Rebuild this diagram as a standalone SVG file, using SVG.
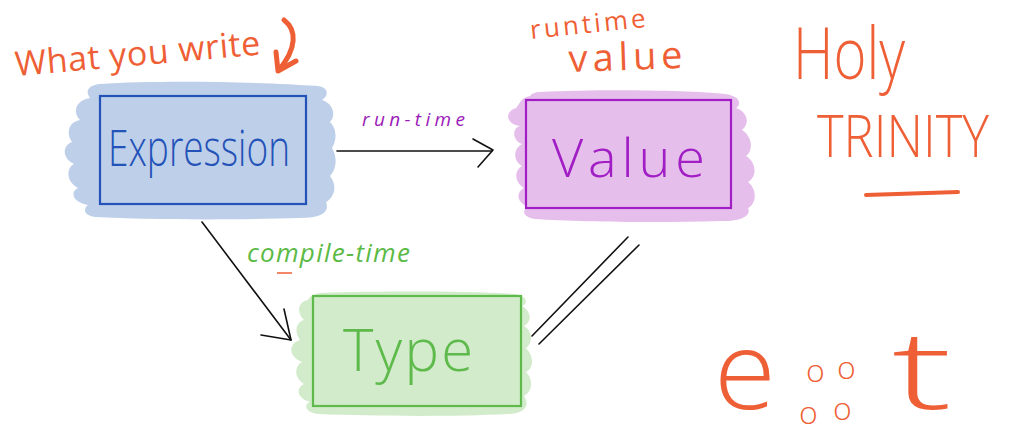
<svg xmlns="http://www.w3.org/2000/svg" width="1031" height="441" viewBox="0 0 1031 441">
  <style>
    .box { fill: none; stroke-width: 2.2; }
    .boxlabel { font-family: "Open Sans", "Liberation Sans", sans-serif; font-weight: 300; }
    .edge { stroke: #111; stroke-width: 1.6; fill: none; stroke-linecap: round; stroke-linejoin: round; }
    .note { font-family: "Open Sans", "Liberation Sans", sans-serif; fill: #EF5F36; }
    .ink { stroke: #EF5F36; fill: none; stroke-linecap: round; stroke-linejoin: round; }
    .edgelabel { font-family: "Open Sans", "Liberation Sans", sans-serif; font-style: italic; }
  </style>

  <rect width="1031" height="441" fill="#ffffff"/>

  <!-- Expression node -->
  <g id="node-expression">
    <path fill="#BECFE9" d="M100,84 C160,80 260,82 318,86 C330,88 328,96 322,100 C334,104 336,116 330,122 C338,130 336,142 332,148 C338,158 336,170 330,176 C338,186 334,198 326,202 C330,212 322,218 300,218 C240,220 150,220 95,217 C82,215 84,208 88,205 C72,202 70,192 78,188 C66,182 66,168 74,164 C62,158 62,146 72,142 C66,134 68,122 80,120 C72,112 76,100 90,98 C84,90 90,85 100,84 Z"/>
    <rect class="box" x="100" y="96" width="206" height="108" stroke="#2352B8"/>
    <text class="boxlabel" x="108" y="166" font-size="50" textLength="182" lengthAdjust="spacingAndGlyphs" fill="#2352B8">Expression</text>
  </g>

  <!-- Value node -->
  <g id="node-value">
    <path fill="#E6BEEB" d="M540,92 C600,89 690,90 725,94 C740,96 742,104 736,108 C748,112 750,124 742,130 C752,136 754,150 746,156 C756,162 758,176 748,182 C758,190 756,204 748,208 C752,216 740,222 720,221 C660,223 580,222 535,219 C522,217 522,210 528,207 C516,202 516,192 524,188 C514,182 514,170 522,166 C512,160 514,148 522,144 C512,140 512,128 520,126 C506,124 504,112 516,108 C520,104 520,98 530,96 C532,93 536,92 540,92 Z"/>
    <rect class="box" x="526" y="100" width="205" height="108" stroke="#A01EC4"/>
    <text class="boxlabel" x="552" y="177" font-size="54" textLength="153" fill="#A01EC4">Value</text>
  </g>

  <!-- Type node -->
  <g id="node-type">
    <path fill="#D2EBCB" d="M320,293 C380,291 470,291 515,294 C528,296 528,304 522,306 C532,312 532,322 524,326 C534,332 532,344 526,348 C534,356 534,368 526,372 C534,380 532,392 524,396 C530,404 526,414 508,414 C450,417 370,416 318,414 C304,412 304,404 310,402 C296,398 296,388 304,384 C294,378 294,366 302,362 C288,356 288,344 300,340 C294,332 296,322 304,320 C296,312 298,302 308,300 C310,296 314,294 320,293 Z"/>
    <rect class="box" x="313" y="296" width="208" height="110" stroke="#5DBA4B"/>
    <text class="boxlabel" x="343" y="371" font-size="58" textLength="130" fill="#5DBA4B">Type</text>
  </g>

  <!-- Connectors -->
  <g id="connectors">
    <g id="edge-runtime">
      <line class="edge" x1="337" y1="151" x2="492" y2="151"/>
      <polyline class="edge" points="473,139 493,150 478,167"/>
      <text class="edgelabel" x="362" y="126" font-size="19" textLength="103" fill="#9A1AB8">run-time</text>
    </g>
    <g id="edge-compiletime">
      <line class="edge" x1="202" y1="222" x2="291" y2="340"/>
      <polyline class="edge" points="284,309 291,340 261,335"/>
      <text class="edgelabel" x="247" y="262" font-size="26" textLength="163" fill="#5CBA46">compile-time</text>
      <line x1="277" y1="273" x2="292" y2="273" stroke="#EF5F36" stroke-width="1.5"/>
    </g>
    <g id="edge-equal">
      <line class="edge" x1="628" y1="237" x2="532" y2="336"/>
      <line class="edge" x1="639" y1="245" x2="539" y2="344"/>
    </g>
  </g>

  <!-- Notes -->
  <g id="note-what-you-write">
    <text class="note" x="16" y="76" font-size="34" textLength="246" transform="rotate(-5 16 76)">What you write</text>
    <path class="ink" stroke-width="5" d="M284,20 C297,30 297,48 279,70"/>
    <path class="ink" stroke-width="5" fill="#EF5F36" d="M276,52 L278,71 L296,61"/>
  </g>

  <g id="note-runtime-value">
    <text class="note" x="531" y="39" font-size="26" textLength="116" transform="rotate(-6 531 39)">runtime</text>
    <text class="note" x="569" y="72" font-size="38" textLength="114" transform="rotate(-2 569 72)">value</text>
  </g>

  <g id="note-holy-trinity">
    <text class="note" x="793" y="79" font-size="72" font-weight="300" textLength="112" lengthAdjust="spacingAndGlyphs">Holy</text>
    <text class="note" x="817" y="157" font-size="58" font-weight="300" textLength="172" lengthAdjust="spacingAndGlyphs">TRINITY</text>
    <line class="ink" stroke-width="4" x1="866" y1="195" x2="958" y2="192"/>
  </g>

  <g id="note-eoot">
    <text class="note" x="714" y="409" font-size="108" font-weight="300" textLength="62" lengthAdjust="spacingAndGlyphs">e</text>
    <!-- four small circles set as one block of text -->
    <text class="note" font-size="32" font-weight="300"><tspan x="806" y="382">o</tspan><tspan x="837" y="379">o</tspan><tspan x="799" y="424">o</tspan><tspan x="833" y="420">o</tspan></text>
    <text class="note" x="892" y="409" font-size="108" font-weight="300" textLength="60" lengthAdjust="spacingAndGlyphs">t</text>
  </g>
</svg>
